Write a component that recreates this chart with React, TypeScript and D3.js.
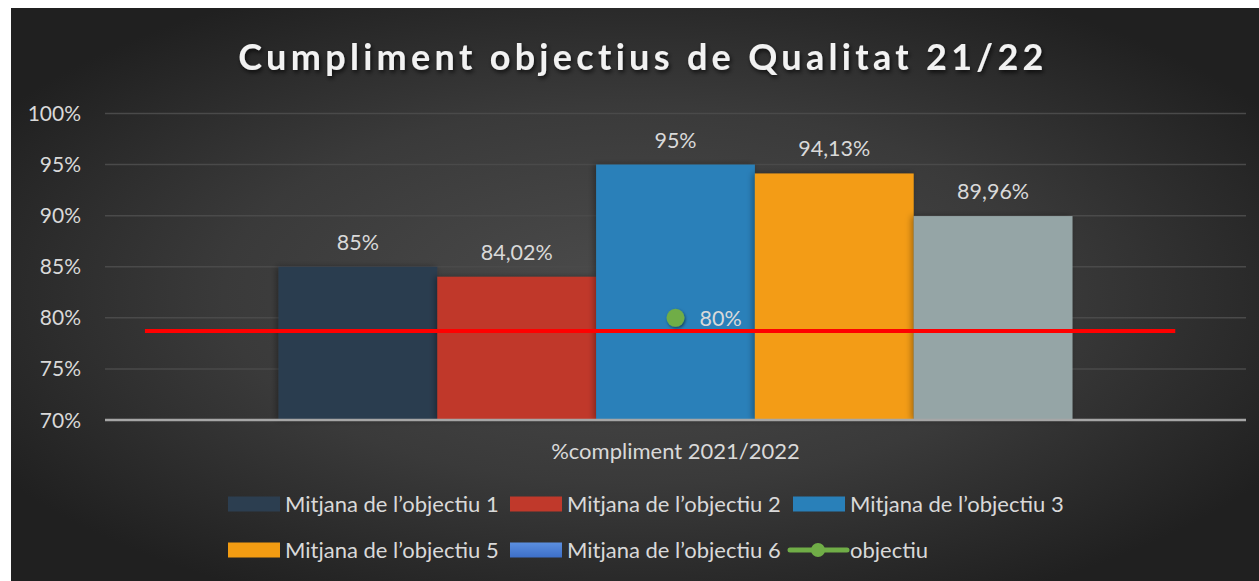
import React from 'react'
import * as d3 from 'd3'

const W = 1259
const H = 581

const title = 'Cumpliment objectius de Qualitat 21/22'
const category = '%compliment 2021/2022'
const seriesNames = [
  'Mitjana de l’objectiu 1',
  'Mitjana de l’objectiu 2',
  'Mitjana de l’objectiu 3',
  'Mitjana de l’objectiu 5',
  'Mitjana de l’objectiu 6',
]
const seriesValues = [0.85, 0.8402, 0.95, 0.9413, 0.8996]
const seriesLabels = ['85%', '84,02%', '95%', '94,13%', '89,96%']
const barColors = ['#2c3e50', '#c0392b', '#2980b9', '#f39c12', '#95a5a6']
const legendColors = ['#2c3e50', '#c0392b', '#2980b9', '#f39c12', 'url(#blueSwatch)']
const objectiuName = 'objectiu'
const objectiuValue = 0.8
const objectiuLabel = '80%'
const redLineValue = 0.787
const redLineSpan = [0.035, 0.938] // fraction of plot width
const yTicks = [0.7, 0.75, 0.8, 0.85, 0.9, 0.95, 1.0]

const font = 'Lato, "Noto Sans", sans-serif'
const textColor = '#d9d9d9'

const plot = { left: 105, right: 1246, top: 113.5, bottom: 420 }

export default function App() {
  const y = d3.scaleLinear().domain([0.7, 1.0]).range([plot.bottom, plot.top])
  const x = d3.scaleBand().domain([category]).range([plot.left, plot.right]).paddingOuter(0.2185)
  const xs = d3.scaleBand().domain(seriesNames).range([0, x.bandwidth()]).padding(0)
  const frac = d3.scaleLinear().domain([0, 1]).range([plot.left, plot.right])
  const fmt = d3.format('.0%')
  const cx = (x(category) as number) + x.bandwidth() / 2

  // legend layout: rows of 3 entries, last entry is the line series
  const legendCols = [228, 510, 793]
  const legendRows = [504, 550]
  const legendItems = [
    ...seriesNames.map((n, i) => ({ name: n, color: legendColors[i], line: false })),
    { name: objectiuName, color: '#70ad47', line: true },
  ]

  return (
    <svg width={W} height={H} style={{ position: 'absolute', left: 0, top: 0, background: '#fff' }}>
      <defs>
        <radialGradient id="bg" cx="0.5" cy="0.5" r="0.6" gradientUnits="objectBoundingBox">
          <stop offset="0" stopColor="#4c4c4c" />
          <stop offset="0.55" stopColor="#3a3a3a" />
          <stop offset="1" stopColor="#202020" />
        </radialGradient>
        <linearGradient id="blueSwatch" x1="0" y1="0" x2="0" y2="1">
          <stop offset="0" stopColor="#5b8fe0" />
          <stop offset="1" stopColor="#3d6fc8" />
        </linearGradient>
        <filter id="titleShadow" x="-10%" y="-30%" width="120%" height="160%">
          <feDropShadow dx="1.5" dy="2.5" stdDeviation="2" floodColor="#000" floodOpacity="0.7" />
        </filter>
        <filter id="barShadow" x="-10%" y="-10%" width="120%" height="120%">
          <feDropShadow dx="-2" dy="0" stdDeviation="3" floodColor="#000" floodOpacity="0.35" />
        </filter>
        <filter id="dotShadow" x="-50%" y="-50%" width="200%" height="200%">
          <feDropShadow dx="1" dy="1.5" stdDeviation="1.5" floodColor="#000" floodOpacity="0.5" />
        </filter>
      </defs>

      <rect x={11} y={8} width={W - 11} height={H - 8} fill="url(#bg)" />

      <text
        x={643}
        y={70}
        textAnchor="middle"
        fontFamily={font}
        fontWeight="bold"
        fontSize={36}
        letterSpacing={4.3}
        fill="#f2f2f2"
        filter="url(#titleShadow)"
      >
        {title}
      </text>

      {/* gridlines */}
      {yTicks.slice(1).map(t => (
        <line key={t} x1={plot.left} x2={plot.right} y1={y(t)} y2={y(t)} stroke="#4a4a4a" strokeWidth={1.5} />
      ))}

      {/* y tick labels */}
      {yTicks.map(t => (
        <text key={t} x={81} y={y(t) + 7.5} textAnchor="end" fontFamily={font} fontSize={21} fill={textColor}>
          {fmt(t)}
        </text>
      ))}

      {/* bars */}
      {seriesNames.map((n, i) => {
        const bx = (x(category) as number) + (xs(n) as number)
        return (
          <rect
            key={n}
            x={bx}
            y={y(seriesValues[i])}
            width={xs.bandwidth()}
            height={plot.bottom - y(seriesValues[i])}
            fill={barColors[i]}
            filter="url(#barShadow)"
          />
        )
      })}

      {/* data labels */}
      {seriesNames.map((n, i) => {
        const bx = (x(category) as number) + (xs(n) as number) + xs.bandwidth() / 2
        return (
          <text key={n} x={bx} y={y(seriesValues[i]) - 17} textAnchor="middle" fontFamily={font} fontSize={21.5} fill={textColor}>
            {seriesLabels[i]}
          </text>
        )
      })}

      {/* axis line */}
      <line x1={plot.left} x2={plot.right} y1={y(0.7)} y2={y(0.7)} stroke="#a6a6a6" strokeWidth={2.5} />

      {/* red threshold line */}
      <line
        x1={frac(redLineSpan[0])}
        x2={frac(redLineSpan[1])}
        y1={y(redLineValue)}
        y2={y(redLineValue)}
        stroke="#ff0000"
        strokeWidth={4}
      />

      {/* objectiu point */}
      <circle cx={cx} cy={y(objectiuValue)} r={9} fill="#70ad47" filter="url(#dotShadow)" />
      <text x={cx + 24} y={y(objectiuValue) + 8} fontFamily={font} fontSize={21.5} fill={textColor}>
        {objectiuLabel}
      </text>

      {/* category label */}
      <text x={cx} y={459} textAnchor="middle" fontFamily={font} fontSize={22} fill={textColor}>
        {category}
      </text>

      {/* legend */}
      {legendItems.map((it, i) => {
        const lx = legendCols[i % 3]
        const ly = legendRows[Math.floor(i / 3)]
        return (
          <g key={it.name} transform={`translate(${lx},${ly})`}>
            {it.line ? (
              <g>
                <line x1={-3} x2={54} y1={0} y2={0} stroke={it.color} strokeWidth={5} strokeLinecap="round" />
                <circle cx={25} cy={0} r={7} fill={it.color} />
              </g>
            ) : (
              <rect x={0} y={-7.5} width={52} height={15} fill={it.color} />
            )}
            <text x={57} y={8} fontFamily={font} fontSize={22} fill={textColor}>
              {it.name}
            </text>
          </g>
        )
      })}
    </svg>
  )
}
